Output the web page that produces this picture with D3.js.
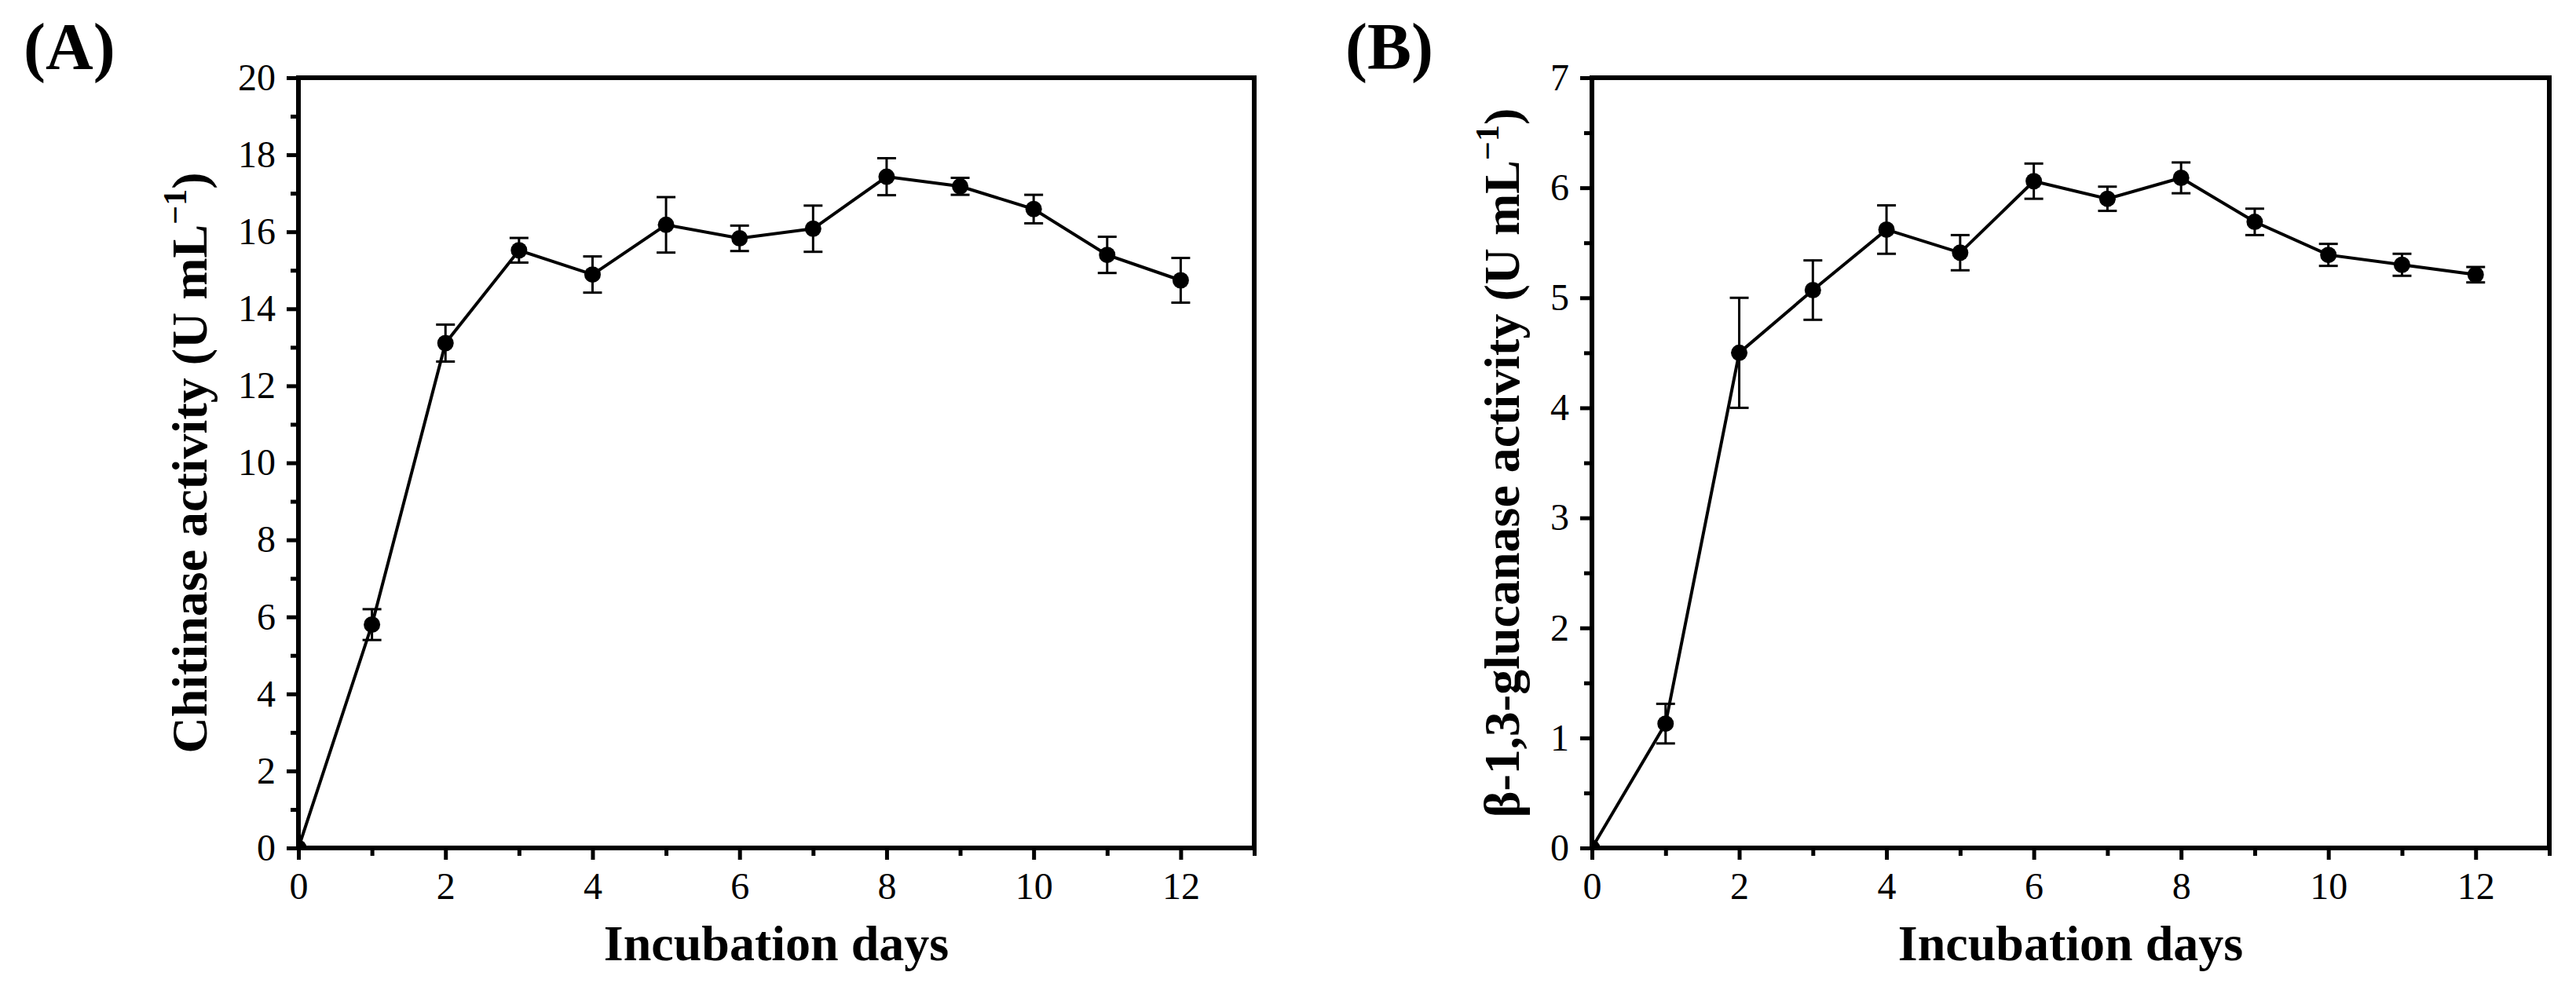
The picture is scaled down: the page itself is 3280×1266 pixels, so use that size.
<!DOCTYPE html>
<html>
<head>
<meta charset="utf-8">
<script src="https://cdn.jsdelivr.net/npm/d3@7"></script>
<style>
  body { margin: 0; background: #fff; }
  svg { display: block; font-family: "Liberation Serif", "Times New Roman", serif; }
</style>
</head>
<body>
<div id="chart"></div>
<script>
// values (mean and error)
const days = [0, 1, 2, 3, 4, 5, 6, 7, 8, 9, 10, 11, 12];
const chitinase = [0, 5.80, 13.11, 15.52, 14.89, 16.18, 15.83, 16.08, 17.43, 17.18, 16.59, 15.40, 14.74];
const chitinaseErr = [0, 0.40, 0.48, 0.32, 0.47, 0.72, 0.33, 0.60, 0.48, 0.22, 0.37, 0.47, 0.58];
const glucanase = [0, 1.13, 4.50, 5.07, 5.62, 5.41, 6.06, 5.90, 6.09, 5.69, 5.39, 5.30, 5.21];
const glucanaseErr = [0, 0.18, 0.50, 0.27, 0.22, 0.16, 0.16, 0.11, 0.14, 0.12, 0.10, 0.10, 0.07];

const xMajor = [0, 2, 4, 6, 8, 10, 12];
const xMinor = [1, 3, 5, 7, 9, 11, 13];
const yMajorA = [0, 2, 4, 6, 8, 10, 12, 14, 16, 18, 20];
const yMinorA = [1, 3, 5, 7, 9, 11, 13, 15, 17, 19];
const yMajorB = [0, 1, 2, 3, 4, 5, 6, 7];
const yMinorB = [0.5, 1.5, 2.5, 3.5, 4.5, 5.5, 6.5];

const W = 3280, H = 1266;
const svg = d3.select("#chart").append("svg")
  .attr("width", W)
  .attr("height", H)
  .style("background-color", "white");

const drawPanel = (opts) => {
  const { id, letter, left, right, top, bottom, yMax, yMajor, yMinor, values, errors, titleMain, titleX } = opts;

  const x = d3.scaleLinear().domain([0, 13]).range([left, right]);
  const y = d3.scaleLinear().domain([0, yMax]).range([bottom, top]);

  const g = svg.append("g");

  g.append("clipPath").attr("id", "clip-" + id)
    .append("rect")
    .attr("x", left).attr("y", top)
    .attr("width", right - left).attr("height", bottom - top);

  // ticks (outward, left and bottom only)
  const styleAxis = (sel, fontSize) => {
    sel.select(".domain").remove();
    sel.selectAll(".tick line").attr("stroke", "#000").attr("stroke-width", 5);
    sel.selectAll(".tick text")
      .attr("fill", "#000")
      .style("font-family", "'Liberation Serif', 'Times New Roman', serif")
      .style("font-size", fontSize + "px");
  };

  g.append("g")
    .attr("transform", `translate(0,${bottom})`)
    .call(d3.axisBottom(x).tickValues(xMinor).tickSize(10).tickFormat(""))
    .call(s => styleAxis(s, 48));
  g.append("g")
    .attr("transform", `translate(0,${bottom})`)
    .call(d3.axisBottom(x).tickValues(xMajor).tickSize(15).tickPadding(16).tickFormat(d3.format("d")))
    .call(s => styleAxis(s, 48));

  g.append("g")
    .attr("transform", `translate(${left},0)`)
    .call(d3.axisLeft(y).tickValues(yMinor).tickSize(10).tickFormat(""))
    .call(s => styleAxis(s, 48));
  g.append("g")
    .attr("transform", `translate(${left},0)`)
    .call(d3.axisLeft(y).tickValues(yMajor).tickSize(15).tickPadding(14).tickFormat(d3.format("d")))
    .call(s => styleAxis(s, 48));

  // frame
  g.append("rect")
    .attr("x", left).attr("y", top)
    .attr("width", right - left).attr("height", bottom - top)
    .attr("fill", "none")
    .attr("stroke", "#000")
    .attr("stroke-width", 6);

  const pts = days.map((d, i) => ({ d, v: values[i], e: errors[i] }));
  const plot = g.append("g").attr("clip-path", `url(#clip-${id})`);

  plot.append("path")
    .datum(pts)
    .attr("fill", "none")
    .attr("stroke", "#000")
    .attr("stroke-width", 4)
    .attr("d", d3.line().x(p => x(p.d)).y(p => y(p.v)));

  const bars = plot.selectAll(".err")
    .data(pts.filter(p => p.e > 0))
    .enter().append("g")
    .attr("stroke", "#000")
    .attr("stroke-width", 3);
  bars.append("line")
    .attr("x1", p => x(p.d)).attr("x2", p => x(p.d))
    .attr("y1", p => y(p.v - p.e)).attr("y2", p => y(p.v + p.e));
  bars.append("line")
    .attr("x1", p => x(p.d) - 12).attr("x2", p => x(p.d) + 12)
    .attr("y1", p => y(p.v + p.e)).attr("y2", p => y(p.v + p.e));
  bars.append("line")
    .attr("x1", p => x(p.d) - 12).attr("x2", p => x(p.d) + 12)
    .attr("y1", p => y(p.v - p.e)).attr("y2", p => y(p.v - p.e));

  plot.selectAll("circle")
    .data(pts)
    .enter().append("circle")
    .attr("cx", p => x(p.d))
    .attr("cy", p => y(p.v))
    .attr("r", 10.5)
    .attr("fill", "#000");

  // axis titles
  g.append("text")
    .attr("x", (left + right) / 2)
    .attr("y", 1223)
    .attr("text-anchor", "middle")
    .style("font-size", "64px")
    .style("font-weight", "bold")
    .text("Incubation days");

  const yt = g.append("text")
    .attr("transform", `translate(${titleX},${(top + bottom) / 2}) rotate(-90)`)
    .attr("text-anchor", "middle")
    .style("font-size", "64px")
    .style("font-weight", "bold");
  yt.append("tspan").text(titleMain + " (U mL");
  yt.append("tspan").attr("dy", -26).style("font-size", "42px").text("\u22121");
  yt.append("tspan").attr("dy", 26).text(")");

  svg.append("text")
    .attr("x", letter.x)
    .attr("y", 88)
    .style("font-size", "84px")
    .style("font-weight", "bold")
    .text(letter.text);
};

drawPanel({
  id: "a", letter: { text: "(A)", x: 30 },
  left: 380, right: 1597, top: 99, bottom: 1080,
  yMax: 20, yMajor: yMajorA, yMinor: yMinorA,
  values: chitinase, errors: chitinaseErr,
  titleMain: "Chitinase activity", titleX: 263
});

drawPanel({
  id: "b", letter: { text: "(B)", x: 1713 },
  left: 2027, right: 3246, top: 99, bottom: 1080,
  yMax: 7, yMajor: yMajorB, yMinor: yMinorB,
  values: glucanase, errors: glucanaseErr,
  titleMain: "\u03b2-1,3-glucanase activity", titleX: 1934
});
</script>
</body>
</html>
